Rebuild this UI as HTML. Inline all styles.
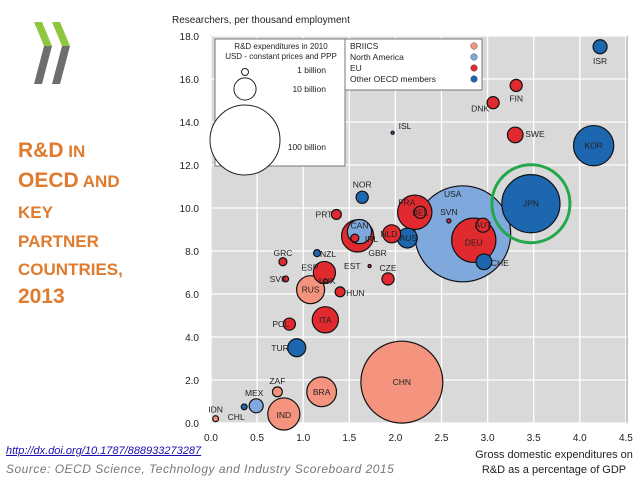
<!DOCTYPE html>
<html><head><meta charset="utf-8"><style>
html,body{margin:0;padding:0;background:#fff;}
body{width:638px;height:479px;overflow:hidden;position:relative;font-family:"Liberation Sans",sans-serif;}
.t{position:absolute;color:#e07a2c;font-weight:bold;left:18px;font-size:17px;line-height:17px;}
.t b{font-size:21px;}
</style></head><body>
<svg width="60" height="70" style="position:absolute;left:30px;top:18px">
<polygon points="4,4 12,4 22,28 14,28" fill="#8dc63f"/><polygon points="14,28 22,28 12,66 4,66" fill="#6d6e71"/>
<polygon points="22,4 30,4 40,28 32,28" fill="#8dc63f"/><polygon points="32,28 40,28 30,66 22,66" fill="#6d6e71"/>
</svg>
<div>
<div class="t" style="top:142px"><b>R&amp;D</b> IN</div>
<div class="t" style="top:172px"><b>OECD</b> AND</div>
<div class="t" style="top:204px">KEY</div>
<div class="t" style="top:233px">PARTNER</div>
<div class="t" style="top:261px">COUNTRIES,</div>
<div class="t" style="top:288px;font-size:21px">2013</div>
</div>
<div style="position:absolute;left:6px;top:445px;font-size:11px;font-style:italic;color:#1a0dab;text-decoration:underline">http://dx.doi.org/10.1787/888933273287</div>
<div style="position:absolute;left:6px;top:462px;font-size:12px;font-style:italic;color:#777;letter-spacing:0.5px">Source: OECD Science, Technology and Industry Scoreboard 2015</div>
<svg id="chart" width="638" height="479" style="position:absolute;left:0;top:0"></svg>
<script>
const countries=["ISR","FIN","DNK","SWE","KOR","ISL","JPN","USA","DEU","AUT","CHE","SVN","FRA","BEL","NLD","AUS","GBR","CAN","IRL","NOR","PRT","NZL","GRC","SVK","ESP","LUX","RUS","HUN","EST","CZE","ITA","POL","TUR","ZAF","MEX","CHL","IDN","IND","BRA","CHN"];
const gerd=[4.22,3.31,3.06,3.30,4.15,1.97,3.47,2.73,2.85,2.95,2.96,2.58,2.21,2.27,1.96,2.13,1.59,1.61,1.56,1.64,1.36,1.15,0.78,0.81,1.23,1.24,1.08,1.40,1.72,1.92,1.24,0.85,0.93,0.72,0.49,0.36,0.05,0.79,1.20,2.07];
const researchers=[17.5,15.7,14.9,13.4,12.9,13.5,10.2,8.8,8.5,9.2,7.5,9.4,9.8,9.8,8.8,8.6,8.7,8.9,8.6,10.5,9.7,7.9,7.5,6.7,7.0,6.6,6.2,6.1,7.3,6.7,4.8,4.6,3.5,1.45,0.8,0.75,0.2,0.42,1.45,1.9];
const rdBillion=[4,3,3,5,33,0.2,69,188,40,4,5,0.35,24,3,6.6,8,21,12,1.3,3,2,1,1.3,0.7,10,0.35,16,2,0.2,3,14,3,6.6,2,4,0.7,0.7,21,18,137];
const groups=["O","E","E","E","O","O","O","N","E","E","O","E","E","E","E","O","E","N","E","O","E","O","E","E","E","E","B","E","E","E","E","E","O","B","N","O","B","B","B","B"];
const xTicks=[0,0.5,1,1.5,2,2.5,3,3.5,4,4.5];
const yTicks=[0,2,4,6,8,10,12,14,16,18];
const legendSizes=[1,10,100];
const legendLabels=["1 billion","10 billion","100 billion"];
// label placement: dx, dy, anchor (styling)
const lab={ISR:[0,17,"middle"],FIN:[0,16,"middle"],DNK:[-4,9,"end"],SWE:[10,2,"start"],KOR:[0,3,"middle"],ISL:[6,-4,"start"],JPN:[0,3,"middle"],USA:[-10,-37,"middle"],DEU:[0,5,"middle"],AUT:[0,3,"middle"],CHE:[7,4,"start"],SVN:[0,-6,"middle"],FRA:[-8,-7,"middle"],BEL:[0,3,"middle"],NLD:[-3,3,"middle"],AUS:[1,3,"middle"],GBR:[20,20,"middle"],CAN:[0,-3,"middle"],IRL:[10,4,"start"],NOR:[0,-10,"middle"],PRT:[-4,3,"end"],NZL:[3,4,"start"],GRC:[0,-6,"middle"],SVK:[1,3,"end"],ESP:[-6,-2,"end"],LUX:[2,3,"middle"],RUS:[0,3,"middle"],HUN:[6,4,"start"],EST:[-9,3,"end"],CZE:[0,-8,"middle"],ITA:[0,3,"middle"],POL:[0,3,"end"],TUR:[-8,3,"end"],ZAF:[0,-8,"middle"],MEX:[-2,-10,"middle"],CHL:[-8,13,"middle"],IDN:[0,-6,"middle"],IND:[0,4,"middle"],BRA:[0,3,"middle"],CHN:[0,3,"middle"]};
const col={B:"#f4937e",N:"#7fa8dc",E:"#e02a2f",O:"#1d66b0"};
const X0=211,SX=92.2,Y0=423,SY=21.5,K=3.5;
const xs=v=>X0+v*SX, ys=v=>Y0-v*SY, rs=v=>K*Math.sqrt(v);
const svg=document.getElementById('chart'),NS="http://www.w3.org/2000/svg";
function mk(t,a,p){const e=document.createElementNS(NS,t);for(const k in a)e.setAttribute(k,a[k]);(p||svg).appendChild(e);return e;}
function tx(x,y,s,fs,anc,p,fill){const e=mk('text',{x:x,y:y,'font-size':fs,'text-anchor':anc||'start','font-family':'Liberation Sans, sans-serif',fill:fill||'#222'},p);e.textContent=s;return e;}
const bg=mk('rect',{x:X0,y:36,width:416,height:387,fill:'#d9d9d9',stroke:'#888'});


xTicks.forEach(v=>{const l=mk('line',{x1:xs(v),x2:xs(v),y1:36,y2:423,stroke:'#fff','stroke-width':1.3});


const t=tx(xs(v),441,v.toFixed(1),10,'middle');

});
yTicks.forEach(v=>{const l=mk('line',{x1:X0,x2:627,y1:ys(v),y2:ys(v),stroke:'#fff','stroke-width':1.3});


const t=tx(199,ys(v)+4,v.toFixed(1),10,'end');

});
const yt=tx(172,23,'Researchers, per thousand  employment',10,'start');


const xt1=tx(554,458,'Gross domestic expenditures on',11,'middle');


const xt2=tx(554,473,'R&D as a percentage of GDP',11,'middle');


// size legend
const sl=mk('g',{});


mk('rect',{x:215,y:39,width:130,height:127,fill:'#fff',stroke:'#777'},sl);
tx(281,49,'R&D expenditures in 2010',8,'middle',sl);
tx(281,59,'USD - constant prices and PPP',8,'middle',sl);
const legCy=[72,89,140], legTy=[73,92,150];
legendSizes.forEach((v,i)=>{mk('circle',{cx:245,cy:legCy[i],r:rs(v),fill:'#fff',stroke:'#222'},sl);tx(326,legTy[i],legendLabels[i],8.5,'end',sl);});
// colour legend
const cl=mk('g',{});


mk('rect',{x:345,y:39,width:137,height:51,fill:'#fff',stroke:'#777'},cl);
[['BRIICS','B'],['North America','N'],['EU','E'],['Other OECD members','O']].forEach((a,i)=>{tx(350,49+i*11,a[0],8.5,'start',cl);mk('circle',{cx:474,cy:46+i*11,r:3.3,fill:col[a[1]],stroke:'#555','stroke-width':0.5},cl);});
// bubbles: draw largest first
const order=countries.map((c,i)=>i).sort((a,b)=>rdBillion[b]-rdBillion[a]);
order.forEach(i=>{const c=mk('circle',{cx:xs(gerd[i]),cy:ys(researchers[i]),r:Math.max(1.2,rs(rdBillion[i])),fill:col[groups[i]],stroke:'#111','stroke-width':1.2});

});
countries.forEach((c,i)=>{const L=lab[c];const t=tx(xs(gerd[i])+L[0],ys(researchers[i])+L[1],c,8.5,L[2]);

});
const ring=mk('circle',{cx:xs(gerd[6]),cy:ys(researchers[6]),r:39,fill:'none',stroke:'#22a84a','stroke-width':3});


</script>
</body></html>
